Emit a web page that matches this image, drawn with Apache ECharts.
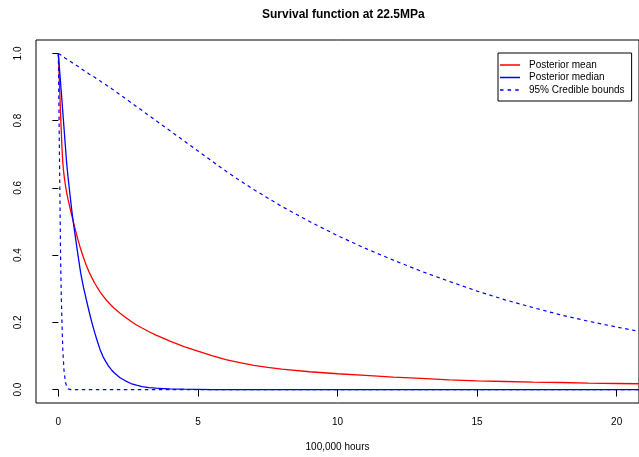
<!DOCTYPE html>
<html>
<head>
<meta charset="utf-8">
<script src="https://cdn.jsdelivr.net/npm/echarts@6/dist/echarts.min.js"></script>
<style>
html,body{margin:0;padding:0;background:#fff;}
#chart{width:639px;height:457px;}
</style>
</head>
<body>
<div id="chart"></div>
<script>
// Time grid (units of 100,000 hours)
const timeGrid = [0, 0.02, 0.04, 0.06, 0.08, 0.1, 0.13, 0.16, 0.2, 0.25, 0.3, 0.35, 0.4, 0.45, 0.5, 0.6, 0.7, 0.8, 0.9, 1.0,
  1.1, 1.2, 1.3, 1.4, 1.5, 1.6, 1.7, 1.8, 1.9, 2.0, 2.2, 2.4, 2.6, 2.8, 3.0, 3.25, 3.5, 3.75, 4.0,
  4.5, 5, 5.5, 6, 6.5, 7, 7.5, 8, 9, 10, 11, 12, 13, 14, 15, 16, 17, 18, 19, 20, 21];

const posteriorMean = [1.0, 0.955, 0.91, 0.865, 0.82, 0.78, 0.72, 0.675, 0.64, 0.61, 0.585, 0.565, 0.547, 0.529, 0.512, 0.478, 0.447, 0.418, 0.393, 0.37,
  0.35, 0.333, 0.317, 0.303, 0.29, 0.279, 0.268, 0.259, 0.25, 0.242, 0.228, 0.215, 0.203, 0.192, 0.183, 0.172, 0.162, 0.153, 0.144,
  0.128, 0.114, 0.101, 0.089, 0.08, 0.072, 0.066, 0.061, 0.053, 0.047, 0.042, 0.037, 0.033, 0.029, 0.026, 0.024, 0.022, 0.021, 0.019, 0.018, 0.017];

const posteriorMedian = [1.0, 0.978, 0.956, 0.935, 0.913, 0.892, 0.86, 0.826, 0.782, 0.727, 0.672, 0.63, 0.593, 0.556, 0.52, 0.46, 0.402, 0.347, 0.305, 0.268,
  0.233, 0.2, 0.17, 0.143, 0.118, 0.098, 0.083, 0.07, 0.059, 0.05, 0.036, 0.026, 0.018, 0.013, 0.009, 0.006, 0.004, 0.003, 0.002,
  0.001, 0.0005, 0, 0, 0, 0, 0, 0, 0, 0, 0, 0, 0, 0, 0, 0, 0, 0, 0, 0, 0];

const lowerBound = [1.0, 0.85, 0.7, 0.55, 0.4, 0.3, 0.2, 0.12, 0.06, 0.025, 0.008, 0.002, 0.001, 0, 0, 0, 0, 0, 0, 0,
  0, 0, 0, 0, 0, 0, 0, 0, 0, 0, 0, 0, 0, 0, 0, 0, 0, 0, 0,
  0, 0, 0, 0, 0, 0, 0, 0, 0, 0, 0, 0, 0, 0, 0, 0, 0, 0, 0, 0, 0];

const upperBound = [1.0, 0.999, 0.998, 0.997, 0.996, 0.995, 0.993, 0.991, 0.989, 0.986, 0.984, 0.981, 0.978, 0.975, 0.973, 0.967, 0.962, 0.956, 0.95, 0.945,
  0.939, 0.934, 0.929, 0.923, 0.918, 0.912, 0.907, 0.901, 0.896, 0.89, 0.878, 0.866, 0.854, 0.842, 0.83, 0.815, 0.80, 0.785, 0.77,
  0.74, 0.71, 0.68, 0.65, 0.622, 0.595, 0.57, 0.545, 0.50, 0.458, 0.42, 0.385, 0.352, 0.322, 0.293, 0.267, 0.244, 0.222, 0.203, 0.186, 0.17];

const xTicks = [0, 5, 10, 15, 20];
const yTicks = [0, 0.2, 0.4, 0.6, 0.8, 1.0];

const titleText = 'Survival function at 22.5MPa';
const xLabel = '100,000 hours';
const seriesNames = ['Posterior mean', 'Posterior median', '95% Credible bounds'];
const seriesColors = ['#ff0000', '#0000ff', '#0000ff'];

function pairs(ys) { return timeGrid.map((t, i) => [t, ys[i]]); }

const FONT = "'Liberation Sans', Arial, Helvetica, sans-serif";
// legend glyphs: thin line / dashed line inside a 20x10 box
const SOLID_ICON = 'path://M0,0h0.01v0.01h-0.01z M19.99,9.99h0.01v0.01h-0.01z M0,4.3h20v1.4h-20z';
const DASH_ICON = 'path://M0,0h0.01v0.01h-0.01z M19.99,9.99h0.01v0.01h-0.01z M0,4.35h3.5v1.3h-3.5z M7.6,4.35h3.5v1.3h-3.5z M15.2,4.35h3.5v1.3h-3.5z';

function legendItem(i, icon) {
  return {
    name: seriesNames[i], icon: icon,
    itemStyle: {color: seriesColors[i], borderColor: seriesColors[i], borderWidth: 0, opacity: 1},
    lineStyle: {color: seriesColors[i], width: 0}
  };
}

const chart = echarts.init(document.getElementById('chart'), null, {renderer: 'canvas'});

chart.setOption({
  animation: false,
  backgroundColor: '#fff',
  textStyle: {fontFamily: FONT, color: '#000'},
  title: {
    text: titleText,
    left: 262, top: 9, padding: 0,
    textStyle: {fontFamily: FONT, fontSize: 12, fontWeight: 'bold', color: '#000'}
  },
  grid: {
    left: 36, top: 40, width: 612.6, height: 363.3,
    show: true, borderColor: '#000', borderWidth: 1, backgroundColor: 'transparent',
    containLabel: false
  },
  legend: {
    data: [legendItem(0, SOLID_ICON), legendItem(1, SOLID_ICON), legendItem(2, DASH_ICON)],
    orient: 'vertical',
    left: 498, top: 53,
    padding: [7, 7, 6, 2],
    itemWidth: 20, itemHeight: 10, itemGap: 2.5,
    borderColor: '#000', borderWidth: 1, borderRadius: 0,
    backgroundColor: '#fff',
    textStyle: {fontFamily: FONT, fontSize: 10, color: '#000', padding: [0, 0, 0, 4]}
  },
  xAxis: {
    type: 'value',
    min: -0.8, max: 20.8,
    name: xLabel,
    nameLocation: 'middle',
    nameGap: 39,
    nameTextStyle: {fontFamily: FONT, fontSize: 10, color: '#000'},
    axisLine: {show: false},
    splitLine: {show: false},
    axisTick: {show: true, length: 7, customValues: xTicks, lineStyle: {color: '#000', width: 1}},
    axisLabel: {show: true, customValues: xTicks, margin: 14, fontFamily: FONT, fontSize: 10, color: '#000',
      formatter: v => String(v)}
  },
  yAxis: {
    type: 'value',
    min: -0.04, max: 1.04,
    axisLine: {show: false},
    splitLine: {show: false},
    axisTick: {show: true, length: 6, customValues: yTicks, lineStyle: {color: '#000', width: 1}},
    axisLabel: {show: true, customValues: yTicks, rotate: 90, margin: 13, fontFamily: FONT, fontSize: 10, color: '#000',
      formatter: v => v.toFixed(1)}
  },
  series: [
    {
      name: seriesNames[0], type: 'line', data: pairs(posteriorMean),
      symbol: 'none', smooth: false, clip: true,
      lineStyle: {color: seriesColors[0], width: 1.3}, itemStyle: {color: seriesColors[0]}
    },
    {
      name: seriesNames[1], type: 'line', data: pairs(posteriorMedian),
      symbol: 'none', smooth: false, clip: true,
      lineStyle: {color: seriesColors[1], width: 1.3}, itemStyle: {color: seriesColors[1]}
    },
    {
      name: seriesNames[2], type: 'line', data: pairs(upperBound),
      symbol: 'none', smooth: false, clip: true,
      lineStyle: {color: seriesColors[2], width: 1.2, type: [3.5, 3.5]}, itemStyle: {color: seriesColors[2]}
    },
    {
      name: seriesNames[2], type: 'line', data: pairs(lowerBound),
      symbol: 'none', smooth: false, clip: true,
      lineStyle: {color: seriesColors[2], width: 1.2, type: [3.5, 3.5]}, itemStyle: {color: seriesColors[2]}
    }
  ]
});
</script>
</body>
</html>
